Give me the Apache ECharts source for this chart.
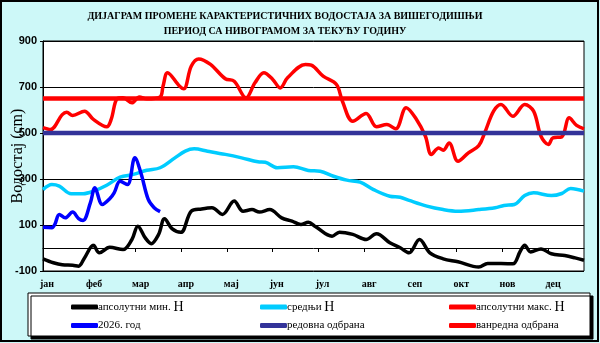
<!DOCTYPE html>
<html>
<head>
<meta charset="utf-8">
<script src="https://cdn.jsdelivr.net/npm/echarts@6/dist/echarts.min.js"></script>
<style>
html,body{margin:0;padding:0;background:#cdf8f8;}
#chart{width:600px;height:343px;}
</style>
</head>
<body>
<div id="chart"></div>
<script>
// x is the day of the year (0..365); month ticks every 31 days
var months = ['јан','феб','мар','апр','мај','јун','јул','авг','сеп','окт','нов','дец'];
var yTicks = [-100, 100, 300, 500, 700, 900];

// [day, water level cm]
var minH = [[0,-47],[7,-64],[13,-73],[20,-75],[24,-79],[28,-43],[34,12],[38,-21],[45,3],[54,-7],
  [60,37],[64,95],[69,44],[73,19],[78,59],[82,127],[87,84],[93,68],[100,160],[107,170],
  [114,175],[121,146],[129,204],[135,160],[141,167],[146,156],[153,167],[161,131],[168,117],[174,102],
  [179,112],[184,92],[195,51],[200,69],[209,59],[218,37],[225,62],[234,23],[241,1],[247,-21],
  [254,37],[261,-21],[270,-47],[280,-60],[294,-83],[300,-67],[309,-67],[317,-69],[322,-14],[325,12],
  [329,-17],[336,-4],[343,-25],[352,-33],[359,-43],[365,-53]];
var meanH = [[0,254],[6,276],[11,269],[19,236],[27,236],[34,247],[43,273],[52,308],[61,320],[70,338],
  [79,349],[89,392],[96,421],[102,431],[111,421],[123,407],[134,392],[145,375],[150,373],[158,349],
  [169,353],[179,337],[187,334],[196,312],[205,295],[214,286],[223,254],[234,225],[241,221],[247,207],
  [259,182],[270,167],[280,160],[294,167],[305,175],[311,185],[318,189],[325,228],[331,240],[343,228],
  [350,237],[356,259],[365,247]];
var maxH = [[0,523],[5,515],[13,580],[16,590],[20,576],[28,595],[34,559],[43,527],[46,559],[50,649],
  [54,653],[60,631],[65,657],[70,649],[79,657],[81,704],[84,762],[92,704],[95,692],[100,790],
  [105,822],[113,798],[123,736],[129,725],[137,653],[143,718],[149,762],[155,733],[160,696],[165,740],
  [177,798],[181,795],[189,747],[198,711],[202,638],[209,551],[218,585],[225,527],[232,537],[238,518],
  [245,610],[252,559],[258,486],[262,407],[267,435],[270,425],[274,457],[280,377],[287,414],[294,445],
  [298,501],[304,595],[309,624],[317,573],[325,624],[331,595],[336,486],[341,450],[344,479],[350,483],
  [355,566],[360,533],[365,518]];
var cur2026 = [[0,90],[6,88],[8,103],[11,146],[15,131],[20,156],[24,128],[27,120],[32,197],[35,262],
  [40,189],[45,214],[48,240],[52,290],[57,276],[62,392],[66,327],[71,211],[75,175],[79,158]];
var regularDef = [[0,500],[365,500]];
var emergencyDef = [[0,650],[365,650]];

var serif = '"Liberation Serif", "Times New Roman", serif';

var chart = echarts.init(document.getElementById('chart'));

function dataLine(name, color, data, z) {
  return {
    name: name, type: 'line', data: data, smooth: 0.35,
    symbol: 'none', z: z, lineStyle: {color: color, width: 3.5}, itemStyle: {color: color}
  };
}
function refLine(name, color, data) {
  return {
    name: name, type: 'line', data: data, symbol: 'none', z: 5,
    lineStyle: {color: color, width: 4.5}, itemStyle: {color: color}
  };
}
function legendCol(x, names) {
  return {
    orient: 'vertical', left: x, top: 295, itemGap: 6, itemWidth: 27, itemHeight: 5,
    icon: 'roundRect', data: names, selectedMode: false,
    formatter: function (n) { return n.replace(/Н$/, '{b|Н}'); },
    textStyle: {fontFamily: serif, fontSize: 11, color: '#000', padding: [0, 0, 0, -5],
      rich: {b: {fontFamily: serif, fontSize: 14, color: '#000'}}}
  };
}

chart.setOption({
  backgroundColor: '#cdf8f8',
  animation: false,
  title: {
    text: 'ДИЈАГРАМ ПРОМЕНЕ КАРАКТЕРИСТИЧНИХ ВОДОСТАЈА ЗА ВИШЕГОДИШЊИ\nПЕРИОД СА НИВОГРАМОМ ЗА ТЕКУЋУ ГОДИНУ',
    left: 280, top: 4, textAlign: 'center',
    textStyle: {fontFamily: serif, fontSize: 10, fontWeight: 'bold', color: '#000', lineHeight: 15}
  },
  graphic: [
    {type: 'rect', shape: {x: 1, y: 1, width: 597, height: 340}, style: {fill: 'none', stroke: '#000', lineWidth: 2}, z: 100},
    {type: 'rect', shape: {x: 28, y: 293, width: 562, height: 43},
      style: {fill: '#fff', stroke: '#000', lineWidth: 1, shadowColor: '#000', shadowOffsetX: 3, shadowOffsetY: 3, shadowBlur: 0}, z: -1}
  ],
  legend: [
    legendCol(66, ['апсолутни мин. Н', '2026. год']),
    legendCol(255, ['средњи Н', 'редовна одбрана']),
    legendCol(444, ['апсолутни макс. Н', 'ванредна одбрана'])
  ],
  grid: {left: 43, right: 16, top: 41, bottom: 72, outerBoundsMode: 'none', containLabel: false,
    show: true, backgroundColor: '#fff', borderColor: '#000', borderWidth: 1},
  xAxis: {
    type: 'value', min: 0, max: 365, interval: 31,
    axisLine: {show: true, lineStyle: {color: '#000', width: 1}},
    axisTick: {show: true, length: 4, lineStyle: {color: '#000'}},
    axisLabel: {fontFamily: serif, fontSize: 10, fontWeight: 'bold', color: '#000', margin: 8, align: 'left',
      showMaxLabel: false, padding: [0, 0, 0, -3],
      formatter: function (v) { return months[Math.round(v / 31)] || ''; }},
    splitLine: {show: false}
  },
  yAxis: {
    type: 'value', min: yTicks[0], max: yTicks[yTicks.length - 1], interval: 200,
    name: 'Водостај (cm)', nameLocation: 'middle', nameGap: 17, nameRotate: 90, nameMoveOverlap: false,
    nameTextStyle: {fontFamily: serif, fontSize: 16, color: '#000'},
    axisLine: {show: true, lineStyle: {color: '#000'}},
    axisTick: {show: true, length: 3, lineStyle: {color: '#000'}},
    axisLabel: {fontFamily: 'Arial, "Liberation Sans", sans-serif', fontSize: 11, fontWeight: 'bold', color: '#000', margin: 6},
    splitLine: {show: true, lineStyle: {color: '#000', width: 1}}
  },
  series: [
    dataLine('апсолутни мин. Н', '#000000', minH, 2),
    dataLine('средњи Н', '#00ccff', meanH, 2),
    dataLine('апсолутни макс. Н', '#ff0000', maxH, 2),
    dataLine('2026. год', '#0000ff', cur2026, 3),
    refLine('редовна одбрана', '#333399', regularDef),
    refLine('ванредна одбрана', '#ff0000', emergencyDef)
  ]
});
</script>
</body>
</html>
